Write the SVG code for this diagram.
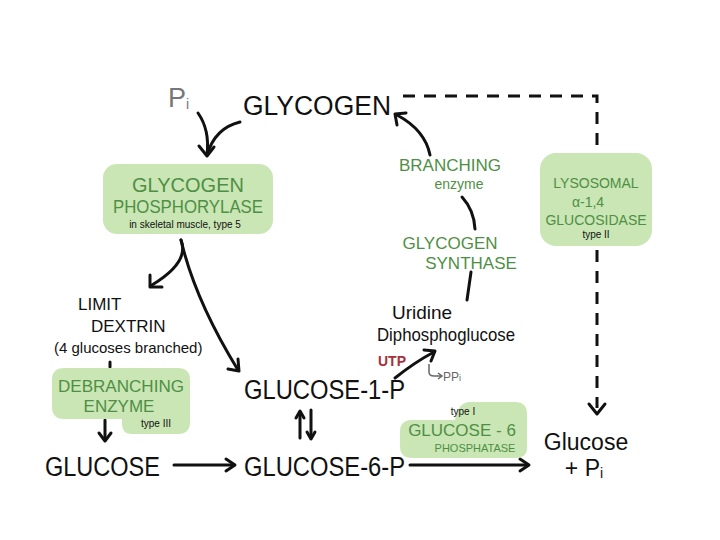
<svg xmlns="http://www.w3.org/2000/svg" width="720" height="540" viewBox="0 0 720 540">
<defs>
<style>
.t{font-family:"Liberation Sans",Arial,sans-serif;fill:#111}
.big{font-size:27px}
.g{font-family:"Liberation Sans",Arial,sans-serif;fill:#4f8f45}
.box{fill:#c9e6b4}
.ln{fill:none;stroke:#111;stroke-width:3;stroke-linecap:round}
.ah{fill:none;stroke:#111;stroke-width:3;stroke-linecap:round;stroke-linejoin:round}
</style>
</defs>
<rect width="720" height="540" fill="#fff"/>

<g id="connectors">
<path d="M403,96 H597 V150" fill="none" stroke="#111" stroke-width="3" stroke-dasharray="12,9"/>
<path d="M597,250 V408" fill="none" stroke="#111" stroke-width="3" stroke-dasharray="12,9"/>
<path class="ah" d="M589,404 L597,414 L605,404"/>
<path class="ln" d="M198,113 Q210,130 207,155"/>
<path class="ln" d="M240,122 Q215,128 207,155"/>
<path class="ah" d="M199,146 L207,156 L214,147"/>
<path class="ln" d="M181,240 Q190,262 152,285"/>
<path class="ah" d="M150,275 L150,287 L162,287"/>
<path class="ln" d="M181,240 Q195,300 238,370"/>
<path class="ah" d="M238,359 L239,371 L228,369"/>
<path class="ln" d="M110,362 V367"/>
<path class="ln" d="M105,420 V440"/>
<path class="ah" d="M99,433 L105,441 L111,433"/>
<path class="ln" d="M174,465 H234"/>
<path class="ah" d="M226,459 L235,465 L226,471"/>
<path class="ln" d="M300,412 V438"/>
<path class="ah" d="M296,418 L300,411 L304,418"/>
<path class="ln" d="M311,410 V438"/>
<path class="ah" d="M307,432 L311,439 L315,432"/>
<path class="ln" d="M410,465 H528"/>
<path class="ah" d="M520,459 L529,465 L520,471"/>
<path class="ln" d="M395,378 Q415,362 434,352"/>
<path class="ah" d="M424,350 L435,351 L431,361"/>
<path d="M429,364 V372 Q429,376 434,376 H441" fill="none" stroke="#666" stroke-width="1.5"/>
<path d="M438,373 L442,376 L438,379" fill="none" stroke="#666" stroke-width="1.5"/>
<path class="ln" d="M467,300 L471,272"/>
<path class="ln" d="M462,197 Q474,210 475,229"/>
<path class="ln" d="M430,155 Q425,130 397,115"/>
<path class="ah" d="M397,125 L395,114 L406,113"/>
</g>

<g id="pi"><text x="168" y="107" font-family="Liberation Sans,Arial,sans-serif" font-size="27" fill="#777">P<tspan font-size="14" dy="2">i</tspan></text></g>
<g id="glycogen"><text class="t big" x="243" y="115" textLength="148" lengthAdjust="spacingAndGlyphs">GLYCOGEN</text></g>

<g id="phosphorylase">
<rect class="box" x="103" y="164" width="170" height="70" rx="14"/>
<text class="g" x="188" y="192" font-size="20" text-anchor="middle">GLYCOGEN</text>
<text class="g" x="188" y="213" font-size="18" text-anchor="middle" textLength="150" lengthAdjust="spacingAndGlyphs">PHOSPHORYLASE</text>
<text class="t" x="185" y="228" font-size="10" text-anchor="middle">in skeletal muscle, type 5</text>
</g>

<g id="limitdextrin">
<text class="t" x="78" y="310" font-size="17">LIMIT</text>
<text class="t" x="91" y="332" font-size="17">DEXTRIN</text>
<text class="t" x="54" y="353" font-size="15">(4 glucoses branched)</text>
</g>

<g id="debranching">
<path class="box" d="M64,368 H178 Q190,368 190,380 V422 Q190,434 178,434 H132 Q122,434 122,424 V419 H64 Q52,419 52,407 V380 Q52,368 64,368 Z"/>
<text class="g" x="121" y="392" font-size="17" text-anchor="middle" textLength="126" lengthAdjust="spacingAndGlyphs">DEBRANCHING</text>
<text class="g" x="119" y="412" font-size="17" text-anchor="middle">ENZYME</text>
<text class="t" x="156" y="427" font-size="10" text-anchor="middle">type III</text>
</g>

<g id="glucose-left"><text class="t big" x="45" y="476" textLength="115" lengthAdjust="spacingAndGlyphs">GLUCOSE</text></g>
<g id="g1p"><text class="t big" x="244" y="399" textLength="161" lengthAdjust="spacingAndGlyphs">GLUCOSE-1-P</text></g>
<g id="g6p"><text class="t big" x="244" y="476" textLength="161" lengthAdjust="spacingAndGlyphs">GLUCOSE-6-P</text></g>

<g id="g6pase">
<path class="box" d="M470,402 H515 Q527,402 527,414 V448 Q527,458 515,458 H412 Q400,458 400,446 V432 Q400,420 412,420 H455 Q458,402 470,402 Z"/>
<text class="t" x="463" y="415" font-size="10" text-anchor="middle">type I</text>
<text class="g" x="462" y="436" font-size="17" text-anchor="middle">GLUCOSE - 6</text>
<text class="g" x="475" y="452" font-size="11" text-anchor="middle">PHOSPHATASE</text>
</g>

<g id="glucose-right">
<text class="t" x="586" y="450" font-size="23" text-anchor="middle">Glucose</text>
<text class="t" x="584" y="476" font-size="23" text-anchor="middle">+ P<tspan font-size="14" dy="2">i</tspan></text>
</g>

<g id="lysosomal">
<rect class="box" x="540" y="153" width="112" height="93" rx="16"/>
<text class="g" x="596" y="188" font-size="14" text-anchor="middle">LYSOSOMAL</text>
<text class="g" x="588" y="207" font-size="14" text-anchor="middle">α-1,4</text>
<text class="g" x="596" y="225" font-size="14" text-anchor="middle">GLUCOSIDASE</text>
<text class="t" x="596" y="238" font-size="10" text-anchor="middle">type II</text>
</g>

<g id="utp"><text x="378" y="366" font-family="Liberation Sans,Arial,sans-serif" font-size="14" font-weight="bold" fill="#a8303a">UTP</text></g>
<g id="ppi"><text x="443" y="381" font-family="Liberation Sans,Arial,sans-serif" font-size="12" fill="#666">PP<tspan font-size="9">i</tspan></text></g>

<g id="udpg">
<text class="t" x="392" y="319" font-size="19">Uridine</text>
<text class="t" x="377" y="341" font-size="19" textLength="138" lengthAdjust="spacingAndGlyphs">Diphosphoglucose</text>
</g>

<g id="synthase">
<text class="g" x="450" y="249" font-size="17" text-anchor="middle">GLYCOGEN</text>
<text class="g" x="471" y="269" font-size="17" text-anchor="middle">SYNTHASE</text>
</g>

<g id="branching">
<text class="g" x="450" y="171" font-size="17" text-anchor="middle">BRANCHING</text>
<text class="g" x="459" y="189" font-size="14" text-anchor="middle">enzyme</text>
</g>
</svg>
